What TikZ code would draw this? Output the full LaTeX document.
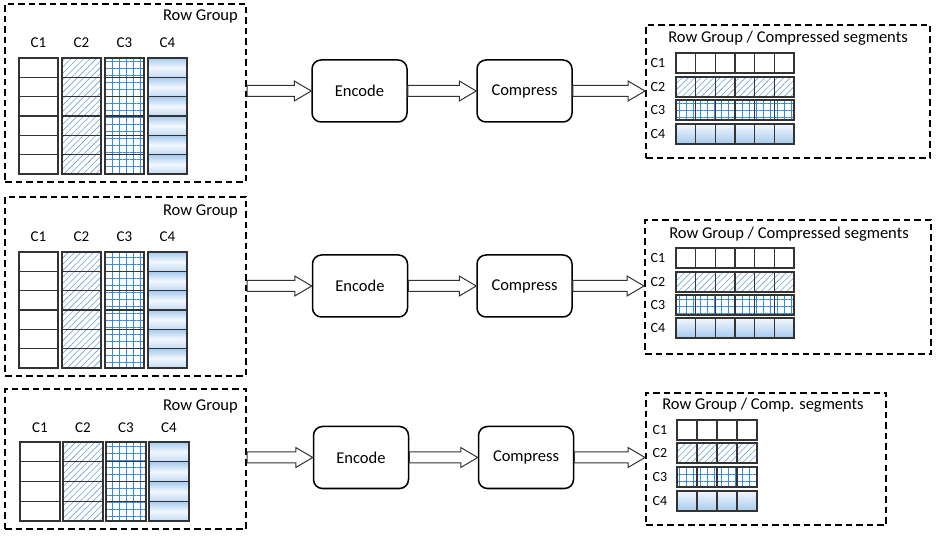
\documentclass[tikz,border=0pt]{standalone}
\usepackage{fontspec}
\setmainfont{Carlito}
\usetikzlibrary{patterns.meta,calc}
\definecolor{hatchblue}{HTML}{6E9FD6}
\definecolor{gridblue}{HTML}{3A8AE0}
\definecolor{shadetop}{HTML}{A6CAEF}
\definecolor{shademid}{HTML}{F2F7FD}
\definecolor{shadebot}{HTML}{C2DAF3}
\definecolor{celledge}{HTML}{333333}
\tikzset{
  grpbox/.style={draw=black, line width=2pt, dash pattern=on 6.5pt off 4pt, inner sep=0pt, anchor=north west},
  procbox/.style={draw=black, line width=1.5pt, rounded corners=9pt, minimum width=95pt, minimum height=62pt, font=\fontsize{16.5}{19}\selectfont},
  title/.style={font=\fontsize{16.5}{19}\selectfont, inner sep=0pt},
  collabel/.style={font=\fontsize{15}{17}\selectfont, inner sep=0pt},
  seglabel/.style={font=\fontsize{14}{15}\selectfont, inner sep=0pt},
  fillA/.style={fill=white},
  fillB/.style={pattern={Lines[angle=45,distance=4.5pt,line width=0.6pt]}, pattern color=hatchblue},
  fillC/.style={pattern={Hatch[distance=7pt,line width=0.7pt]}, pattern color=gridblue},
  fillD/.style={top color=shadetop, bottom color=shadebot, middle color=shademid},
  fillE/.style={top color=shademid, bottom color=shadetop},
  cell/.style={draw=celledge, line width=1.1pt},
  barrow/.style={draw=black!80, line width=1pt, fill=white, line join=miter},
}
\newcommand\blockarrow[2]{%
  \draw[barrow] let \p1=(#1), \p2=(#2) in
    (\x1,\y2-5.5pt) -- (\x2-17pt,\y2-5.5pt) -- (\x2-17pt,\y2-10pt) -- (\x2,\y2)
    -- (\x2-17pt,\y2+10pt) -- (\x2-17pt,\y2+5.5pt) -- (\x1,\y2+5.5pt) -- cycle;}
\begin{document}
\begin{tikzpicture}[x=1pt,y=-1pt]
\useasboundingbox (0,0) rectangle (938,537);

% ---------- Row 1 ----------
\node[grpbox, minimum width=241pt, minimum height=178pt] (rg1) at (4,3) {};
\node[title, anchor=east] (rgt1) at (238,16) {Row Group};
\foreach \i/\f/\l in {0/fillA/C1,1/fillB/C2,2/fillC/C3,3/fillD/C4}{
  \foreach \r in {0,...,5} \path[\f] (19+\i*43,58+\r*19.33) rectangle ++(39,19.33);
  \foreach \r in {1,...,5} \draw[cell] (19+\i*43,58+\r*19.33) -- ++(39,0);
  \draw[cell] (19+\i*43,58) rectangle ++(39,116);
  \node[collabel] (la\i) at (38.5+\i*43,43) {\l};
}
\node[procbox] (enc1) at (359.5,91) {Encode};
\node[procbox] (cmp1) at (524.5,91) {Compress};
\node[grpbox, minimum width=284pt, minimum height=133pt] (rs1) at (645,24) {};
\node[title] (rst1) at (788,38) {Row Group / Compressed segments};
\foreach \j/\f/\l/\y in {0/fillA/C1/53,1/fillB/C2/77,2/fillC/C3/100,3/fillE/C4/124}{
  \foreach \k in {0,...,5} \path[\f] (676+\k*19.667,\y) rectangle ++(19.667,20);
  \foreach \k in {0,...,5} \draw[cell] (676+\k*19.667,\y) rectangle ++(19.667,20);
  \node[seglabel] (sa\j) at (658,\y+10) {\l};
}
\blockarrow{rg1.east}{enc1.west}
\blockarrow{enc1.east}{cmp1.west}
\blockarrow{cmp1.east}{rs1.west |- cmp1.east}

% ---------- Row 2 ----------
\node[grpbox, minimum width=241pt, minimum height=179pt] (rg2) at (4,196) {};
\node[title, anchor=east] (rgt2) at (238,211) {Row Group};
\foreach \i/\f/\l in {0/fillA/C1,1/fillB/C2,2/fillC/C3,3/fillD/C4}{
  \foreach \r in {0,...,5} \path[\f] (19+\i*43,252+\r*19.33) rectangle ++(39,19.33);
  \foreach \r in {1,...,5} \draw[cell] (19+\i*43,252+\r*19.33) -- ++(39,0);
  \draw[cell] (19+\i*43,252) rectangle ++(39,116);
  \node[collabel] (lb\i) at (38.5+\i*43,237) {\l};
}
\node[procbox] (enc2) at (360,286) {Encode};
\node[procbox] (cmp2) at (524.5,286) {Compress};
\node[grpbox, minimum width=286pt, minimum height=134pt] (rs2) at (644,219) {};
\node[title] (rst2) at (789,234) {Row Group / Compressed segments};
\foreach \j/\f/\l/\y in {0/fillA/C1/248,1/fillB/C2/272,2/fillC/C3/295,3/fillE/C4/318}{
  \foreach \k in {0,...,5} \path[\f] (676+\k*19.667,\y) rectangle ++(19.667,20);
  \foreach \k in {0,...,5} \draw[cell] (676+\k*19.667,\y) rectangle ++(19.667,20);
  \node[seglabel] (sb\j) at (658,\y+10) {\l};
}
\blockarrow{rg2.east}{enc2.west}
\blockarrow{enc2.east}{cmp2.west}
\blockarrow{cmp2.east}{rs2.west |- cmp2.east}

% ---------- Row 3 ----------
\node[grpbox, minimum width=241pt, minimum height=140pt] (rg3) at (4,388) {};
\node[title, anchor=east] (rgt3) at (238,406) {Row Group};
\foreach \i/\f/\l in {0/fillA/C1,1/fillB/C2,2/fillC/C3,3/fillD/C4}{
  \foreach \r in {0,...,3} \path[\f] (20+\i*43,442+\r*19.75) rectangle ++(40,19.75);
  \foreach \r in {1,...,3} \draw[cell] (20+\i*43,442+\r*19.75) -- ++(40,0);
  \draw[cell] (20+\i*43,442) rectangle ++(40,79);
  \node[collabel] (lc\i) at (40+\i*43,428) {\l};
}
\node[procbox] (enc3) at (361,457.5) {Encode};
\node[procbox] (cmp3) at (526,457.5) {Compress};
\node[grpbox, minimum width=240pt, minimum height=132pt] (rs3) at (645,392) {};
\node[title] (rst3) at (763,405) {Row Group / Comp. segments};
\foreach \j/\f/\l/\y in {0/fillA/C1/420,1/fillB/C2/443,2/fillC/C3/467,3/fillE/C4/491}{
  \foreach \k in {0,...,3} \path[\f] (677+\k*20,\y) rectangle ++(20,20);
  \foreach \k in {0,...,3} \draw[cell] (677+\k*20,\y) rectangle ++(20,20);
  \node[seglabel] (sc\j) at (660,\y+10) {\l};
}
\blockarrow{rg3.east}{enc3.west}
\blockarrow{enc3.east}{cmp3.west}
\blockarrow{cmp3.east}{rs3.west |- cmp3.east}
\end{tikzpicture}
\end{document}
